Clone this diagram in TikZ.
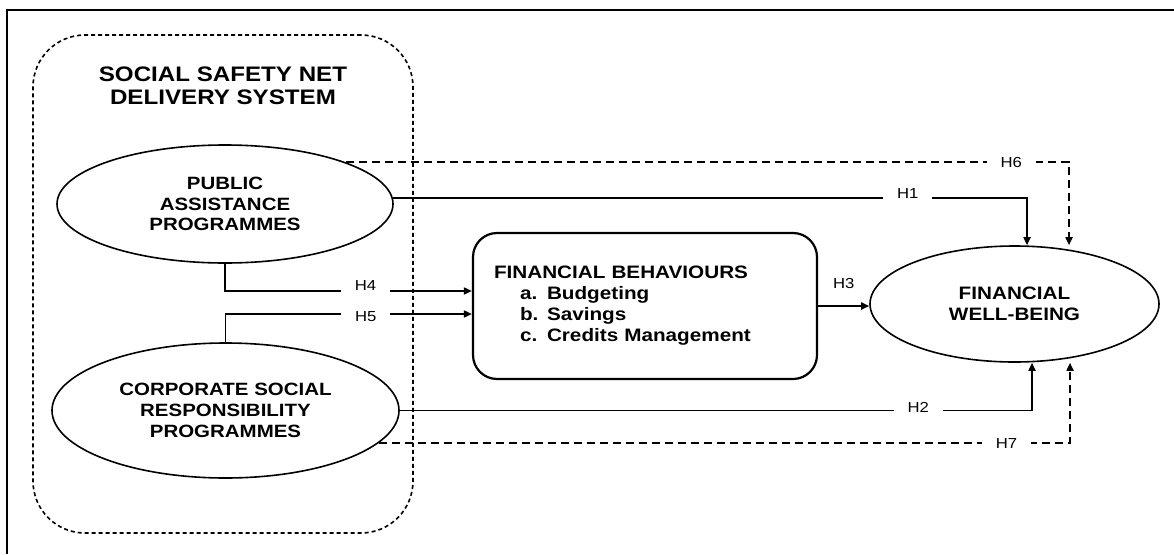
\documentclass[tikz,border=0pt]{standalone}
\usepackage{fontspec}
\setmainfont{Liberation Sans}[FakeStretch=1.15]
\usetikzlibrary{shapes.geometric,arrows.meta,calc}
\begin{document}
\begin{tikzpicture}[x=1pt,y=-1pt,
  ell/.style={draw, ellipse, line width=1.6pt, inner sep=0pt, align=center,
    font=\fontsize{17.8}{20.8}\selectfont\bfseries},
  fbbox/.style={draw, rounded corners=24pt, line width=2.2pt, align=left,
    minimum width=344pt, minimum height=146pt, text width=302pt, inner xsep=21pt,
    font=\fontsize{18}{21}\selectfont\bfseries},
  ssnbox/.style={draw, rounded corners=52pt, line width=1.6pt, dash pattern=on 4pt off 3pt,
    minimum width=380pt, minimum height=498pt, inner sep=0pt},
  conn/.style={line width=1.7pt, -{Triangle[length=8pt,width=7pt]}},
  dconn/.style={conn, dash pattern=on 8pt off 5pt},
  lbl/.style={fill=white, inner xsep=14pt, inner ysep=3pt, font=\fontsize{14.5}{16}\selectfont},
  hlbl/.style={inner sep=0pt, font=\fontsize{14.5}{16}\selectfont}
]
\useasboundingbox (0,0) rectangle (1174,554);
% outer frame (left and top visible)
\draw[line width=2.5pt] (7,554) -- (7,10) -- (1174,10);

% social safety net group
\node[ssnbox] (ssn) at (223,284) {};
\node[align=center, font=\fontsize{21}{23}\selectfont\bfseries] (title) at (223,86)
  {SOCIAL SAFETY NET\\DELIVERY SYSTEM};

\node[ell, minimum width=336pt, minimum height=118pt] (pub) at (225,204)
  {PUBLIC\\ASSISTANCE\\PROGRAMMES};
\node[ell, minimum width=347pt, minimum height=135pt] (csr) at (225.5,410.5)
  {CORPORATE SOCIAL\\RESPONSIBILITY\\PROGRAMMES};

\node[fbbox] (fb) at (645,306)
  {FINANCIAL BEHAVIOURS\\
   \hspace*{26pt}\makebox[27pt][l]{a.}Budgeting\\
   \hspace*{26pt}\makebox[27pt][l]{b.}Savings\\
   \hspace*{26pt}\makebox[27pt][l]{c.}Credits Management};

\node[ell, minimum width=289pt, minimum height=116pt, font=\fontsize{18}{21.5}\selectfont\bfseries]
  (fwb) at (1014.5,304) {FINANCIAL\\WELL-BEING};

% helper coordinates
\coordinate (x1) at (1027,0);
\coordinate (x6) at (1069,0);
\coordinate (x2) at (1032,0);
\coordinate (x7) at (1070,0);
\coordinate (h4) at ($(fb.west)+(0,-15)$);
\coordinate (h5) at ($(fb.west)+(0,8)$);

% connectors
\draw[conn] (pub.2) -- node[lbl,pos=0.812,yshift=5pt]{H1} (pub.2 -| x1) -- (x1 |- fwb.north);
\draw[dconn] (pub.19) -- node[lbl,pos=0.92]{H6} (pub.19 -| x6) -- (x6 |- fwb.north);
\draw[conn] (csr.east) -- node[lbl,pos=0.82,yshift=3pt]{H2} (csr.east -| x2) -- (x2 |- fwb.south);
\draw[dconn] (csr.-12.5) -- node[lbl,pos=0.908]{H7} (csr.-12.5 -| x7) -- (x7 |- fwb.south);
\draw[conn] (fb.east) -- node[hlbl,midway,yshift=22pt]{H3} (fb.east -| fwb.west);
\draw[conn] (pub.south) -- (pub.south |- h4) -- node[lbl,pos=0.569,yshift=5pt]{H4} (h4);
\draw[conn] (csr.north) -- (csr.north |- h5) -- node[lbl,pos=0.569,yshift=-3pt]{H5} (h5);
\end{tikzpicture}
\end{document}
